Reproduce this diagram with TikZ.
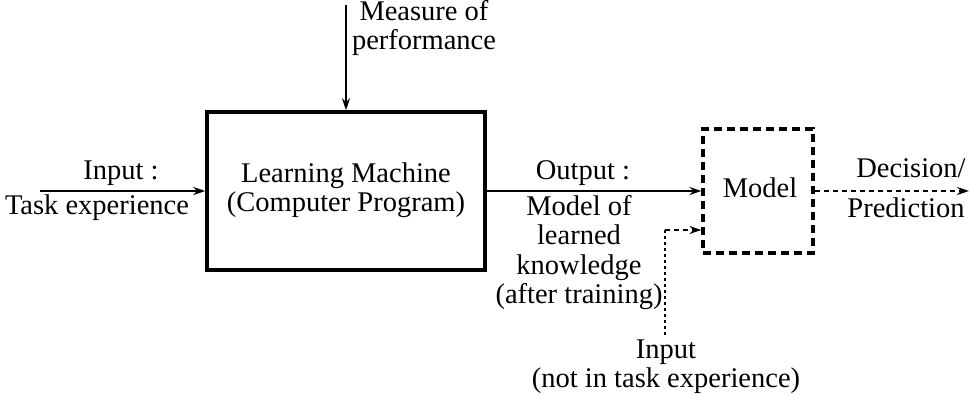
\documentclass[tikz,border=0pt]{standalone}
\usepackage{fontspec}
\setmainfont{Liberation Serif}
\usetikzlibrary{arrows.meta}
\tikzset{
  lbl/.style={inner sep=0pt, align=center, font=\fontsize{28.5}{29.5}\selectfont, anchor=base},
  mainbox/.style={draw, line width=3.5pt, minimum width=278pt, minimum height=158pt, inner sep=0pt},
  modelbox/.style={draw, line width=3.2pt, dash pattern=on 8pt off 5pt, minimum width=110pt, minimum height=124pt, inner sep=0pt},
  arr/.style={line width=2.5pt, -{Stealth[length=12pt,width=8pt]}},
  dasharr/.style={line width=2.5pt, dash pattern=on 5pt off 4pt, -{Stealth[length=12pt,width=8pt]}},
  dotline/.style={line width=2.5pt, dash pattern=on 3pt off 3pt},
}
\begin{document}
\begin{tikzpicture}[x=1pt, y=-1pt]
\useasboundingbox (0,0) rectangle (970,395);

% blocks
\node[mainbox] (lm) at (346,191) {};
\node[modelbox] (model) at (758,191) {};

% texts (base anchor = baseline of the last line)
\node[lbl] (lmtext) at (346,212) {Learning Machine\\(Computer Program)};
\node[lbl] (modeltext) at (760,198) {Model};
\node[lbl] (intop) at (121,180) {Input :};
\node[lbl] (inbot) at (97,215) {Task experience};
\node[lbl] (measure) at (424,50) {Measure of\\performance};
\node[lbl] (outtop) at (583,180) {Output :};
\node[lbl] (outbot) at (579,304) {Model of\\learned\\knowledge\\(after training)};
\node[lbl] (dectop) at (911,178) {Decision/};
\node[lbl] (decbot) at (906,218) {Prediction};
\node[lbl] (newin) at (666,388) {Input\\(not in task experience)};

% connector ends
\coordinate (src) at (40,191);
\coordinate (mtop) at (346,5);
\coordinate (dec) at (969,191);
\coordinate (ni) at (665,335);

% connectors
\draw[arr] (src) -- (lm.west);
\draw[arr] (mtop) -- (lm.north);
\draw[arr] (lm.east) -- (model.west);
\draw[dasharr] (model.east) -- (dec);
\draw[dotline] (ni) -- (ni |- 0,230);
\draw[dasharr] (ni |- 0,230) -- ([yshift=-39pt]model.west);
\end{tikzpicture}
\end{document}
